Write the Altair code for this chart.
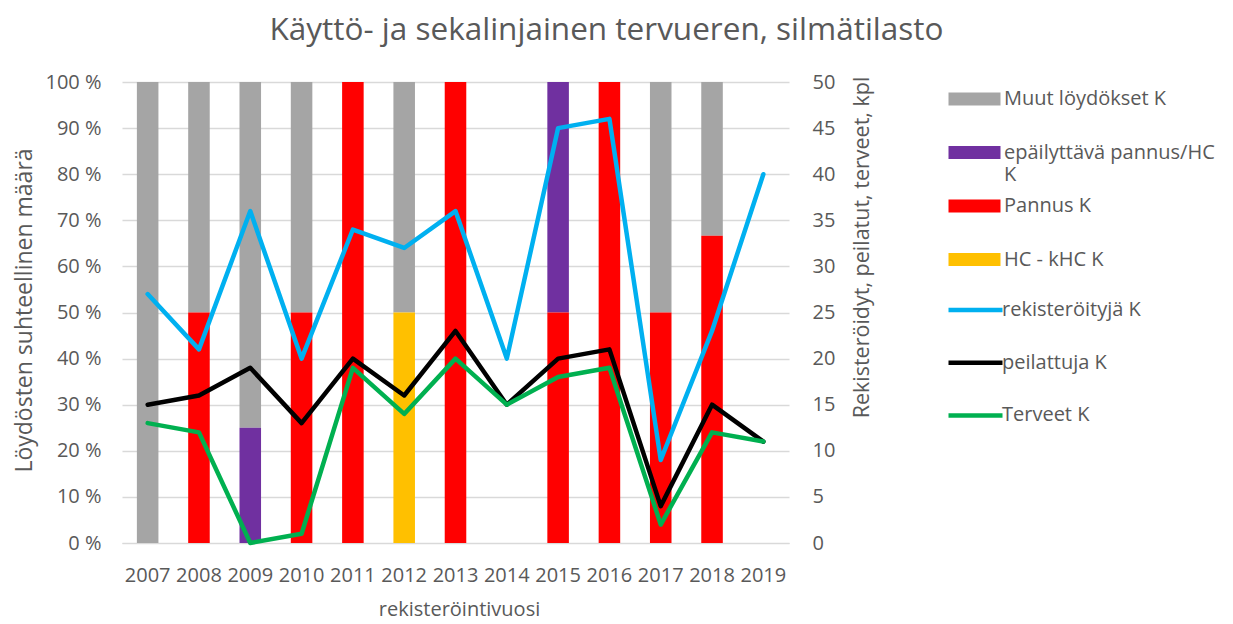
import altair as alt
import pandas as pd

years = [str(y) for y in range(2007, 2020)]

bar_series = ["Muut löydökset  K", "epäilyttävä pannus/HC K", "Pannus K", "HC - kHC K"]
bar_colors = ["#A5A5A5", "#7030A0", "#FF0000", "#FFC000"]
bar_stack = [3, 2, 1, 0]  # stacking order bottom -> top
muut = [1.0, 0.5, 0.75, 0.5, 0, 0.5, 0, 0, 0, 0, 0.5, 1 / 3, 0]
epailyttava = [0, 0, 0.25, 0, 0, 0, 0, 0, 0.5, 0, 0, 0, 0]
pannus = [0, 0.5, 0, 0.5, 1.0, 0, 1.0, 0, 0.5, 1.0, 0.5, 2 / 3, 0]
hc_khc = [0, 0, 0, 0, 0, 0.5, 0, 0, 0, 0, 0, 0, 0]

line_series = ["rekisteröityjä K", "peilattuja K", "Terveet K"]
line_colors = ["#00B0F0", "#000000", "#00B050"]
rekisteroityja = [27, 21, 36, 20, 34, 32, 36, 20, 45, 46, 9, 23, 40]
peilattuja = [15, 16, 19, 13, 20, 16, 23, 15, 20, 21, 4, 15, 11]
terveet = [13, 12, 0, 1, 19, 14, 20, 15, 18, 19, 2, 12, 11]

FONT = "Open Sans"
TXT = "#595959"

bar_rows = []
for name, order, vals in zip(bar_series, bar_stack, [muut, epailyttava, pannus, hc_khc]):
    for y, v in zip(years, vals):
        if v > 0:
            bar_rows.append({"year": y, "series": name, "stack": order, "value": v})
bar_df = pd.DataFrame(bar_rows)

line_rows = []
for name, vals in zip(line_series, [rekisteroityja, peilattuja, terveet]):
    for y, v in zip(years, vals):
        line_rows.append({"year": y, "series": name, "value": v})
line_df = pd.DataFrame(line_rows)


def make_chart(use_line_height):
    x_enc = alt.X(
        "year:N",
        sort=years,
        scale=alt.Scale(domain=years, paddingInner=0.58, paddingOuter=0.29),
        axis=alt.Axis(
            title="rekisteröintivuosi",
            labelAngle=0,
            labelFont=FONT,
            labelFontSize=20,
            labelColor=TXT,
            labelPadding=22,
            labelOverlap=False,
            ticks=False,
            tickSize=0,
            domainColor="#D9D9D9",
            domainWidth=1,
            titleFont=FONT,
            titleFontSize=20,
            titleFontWeight="normal",
            titleColor=TXT,
            titleX=337,
            titleY=72,
            titleBaseline="alphabetic",
            titleAlign="center",
        ),
    )

    bar_legend_kw = dict(
        title=None,
        orient="none",
        legendX=842.5,
        legendY=7,
        padding=0,
        symbolType="M-4,-1H4V1H-4Z",
        symbolSize=169,
        symbolStrokeWidth=0,
        symbolOpacity=1,
        labelOffset=19.5,
        labelFont=FONT,
        labelFontSize=20,
        labelColor=TXT,
        labelLimit=400,
        rowPadding=11.5,
        labelExpr="datum.label == 'epäilyttävä pannus/HC K' ? ['epäilyttävä pannus/HC', 'K'] : [datum.label, ' ']",
    )
    if use_line_height:
        bar_legend_kw["encoding"] = {"labels": {"lineHeight": {"value": 26}}}
        bar_legend_kw["rowPadding"] = 7.5

    bars = (
        alt.Chart(bar_df)
        .mark_bar()
        .encode(
            x=x_enc,
            y=alt.Y(
                "value:Q",
                stack="zero",
                scale=alt.Scale(domain=[0, 1], nice=False),
                axis=alt.Axis(
                    orient="left",
                    values=[i / 10 for i in range(11)],
                    labelExpr="replace(format(datum.value, '.0%'), '%', ' %')",
                    labelFont=FONT,
                    labelFontSize=20,
                    labelColor=TXT,
                    labelPadding=21,
                    ticks=False,
                    tickSize=0,
                    domain=False,
                    grid=True,
                    gridColor="#D9D9D9",
                    gridWidth=1.3,
                    title="Löydösten suhteellinen määrä",
                    titleFont=FONT,
                    titleFontSize=23,
                    titleFontWeight="normal",
                    titleColor=TXT,
                    titleX=-98,
                    titleY=228,
                    titleBaseline="middle",
                    titleAlign="center",
                    titleAngle=270,
                ),
            ),
            color=alt.Color(
                "series:N",
                scale=alt.Scale(domain=bar_series, range=bar_colors),
                legend=alt.Legend(**bar_legend_kw),
            ),
            order=alt.Order("stack:Q", sort="ascending"),
        )
    )

    lines = (
        alt.Chart(line_df)
        .mark_line(strokeWidth=4.5, strokeJoin="round", strokeCap="round")
        .encode(
            x=x_enc,
            y=alt.Y(
                "value:Q",
                scale=alt.Scale(domain=[0, 50], nice=False),
                axis=alt.Axis(
                    orient="right",
                    values=list(range(0, 51, 5)),
                    labelFont=FONT,
                    labelFontSize=20,
                    labelColor=TXT,
                    labelPadding=23,
                    ticks=False,
                    tickSize=0,
                    domain=False,
                    grid=False,
                    title="Rekisteröidyt, peilatut, terveet, kpl",
                    titleFont=FONT,
                    titleFontSize=21.5,
                    titleFontWeight="normal",
                    titleColor=TXT,
                    titleX=73,
                    titleY=165,
                    titleBaseline="middle",
                    titleAlign="center",
                    titleAngle=270,
                ),
            ),
            color=alt.Color(
                "series:N",
                sort=line_series,
                scale=alt.Scale(domain=line_series, range=line_colors),
                legend=alt.Legend(
                    title=None,
                    orient="none",
                    legendX=843.5,
                    legendY=218,
                    padding=0,
                    symbolType="M-6,0H6",
                    symbolSize=81,
                    symbolStrokeWidth=4.5,
                    symbolOpacity=1,
                    labelOffset=16.5,
                    labelFont=FONT,
                    labelFontSize=20,
                    labelColor=TXT,
                    labelLimit=400,
                    rowPadding=32.7,
                ),
            ),
        )
    )

    return (
        alt.layer(bars, lines)
        .resolve_scale(y="independent", color="independent")
        .properties(
            width=667,
            height=461,
            padding={"left": 114, "top": 74, "right": 436, "bottom": 78},
            autosize=alt.AutoSizeParams(type="none"),
            title=alt.TitleParams(
                text="Käyttö- ja sekalinjainen tervueren, silmätilasto",
                font=FONT,
                fontSize=31.5,
                fontWeight="normal",
                color=TXT,
                anchor="middle",
                frame="group",
                dx=151,
                dy=-1,
                offset=0,
                baseline="alphabetic",
            ),
        )
        .configure_view(stroke=None)
    )


try:
    chart = make_chart(True)
    chart.to_dict()
except Exception:
    chart = make_chart(False)

chart.save("out.html", embed_options={"renderer": "svg", "actions": False})
